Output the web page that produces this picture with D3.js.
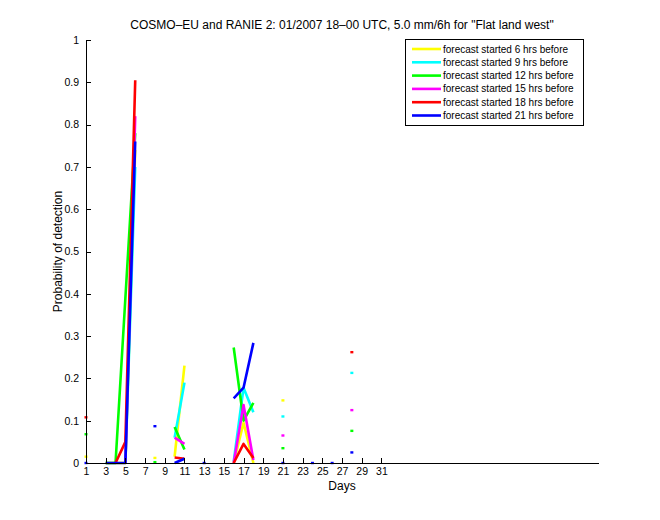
<!DOCTYPE html>
<html><head><meta charset="utf-8">
<script src="https://cdn.jsdelivr.net/npm/d3@7"></script>
<style>body{margin:0;background:#fff}svg{display:block}text{font-family:"Liberation Sans",Arial,sans-serif}</style>
</head><body><svg id="c" width="660" height="520"></svg>
<script>
const days = d3.range(1, 32);
const xTicks = [1,3,5,7,9,11,13,15,17,19,21,23,25,27,29,31];
const yTicks = [0,0.1,0.2,0.3,0.4,0.5,0.6,0.7,0.8,0.9,1];
const seriesNames = ["forecast started 6 hrs before","forecast started 9 hrs before","forecast started 12 hrs before","forecast started 15 hrs before","forecast started 18 hrs before","forecast started 21 hrs before"];
const seriesColors = ["#ffff00","#00ffff","#00ff00","#ff00ff","#ff0000","#0000ff"];
const N = null;
// values for days 1..31
const s6h  = [0.015,N,0,0,0,0.74,N,0.012,N,0.015,0.23,N,N,N,N,0,0.095,0,N,N,0.148,N,N,N,N,N,N,N,N,N,N];
const s9h  = [N,N,N,N,0,0.70,N,N,N,0.06,0.19,N,N,N,N,0.003,0.178,0.12,N,N,0.11,N,N,N,N,N,N,0.213,N,N,N];
const s12h = [0.068,N,0,0,0.39,0.78,N,0.002,N,0.085,0.032,N,N,N,N,0.273,0.10,0.142,N,N,0.035,N,N,N,N,N,N,0.076,N,N,N];
const s15h = [N,N,N,N,0,0.82,N,N,N,0.06,0.045,N,N,N,N,0,0.137,0.007,N,N,0.065,N,N,N,N,N,N,0.125,N,N,N];
const s18h = [0.108,N,N,0,0.05,0.905,N,N,N,0.013,0.01,N,N,N,N,0,0.045,0.012,N,N,N,N,N,N,N,N,N,0.262,N,N,N];
const s21h = [0,N,0,0,0,0.76,N,0.087,N,0,0.01,N,0,N,N,0.153,0.178,0.284,N,N,0,N,N,0,N,0,N,0.025,N,N,N];
const allSeries = [s6h,s9h,s12h,s15h,s18h,s21h];

const svg = d3.select("#c");
const L = 86, R = 598, T = 40, B = 463;
const x = d3.scaleLinear().domain([1, 53]).range([L, R]);
const y = d3.scaleLinear().domain([0, 1]).range([B, T]);

svg.append("rect").attr("width",660).attr("height",520).attr("fill","#fff");

const line = d3.line().defined(d => d[1] !== null).x(d => x(d[0])).y(d => y(d[1]));
allSeries.forEach((vals, i) => {
  const pts = days.map((d, k) => [d, vals[k]]);
  svg.append("path").datum(pts).attr("d", line).attr("fill","none")
    .attr("stroke", seriesColors[i]).attr("stroke-width", 2.6).attr("stroke-linejoin","round");
  // isolated points
  const iso = pts.filter((p, k) => p[1] !== null && (k === 0 || vals[k-1] === null) && (k === vals.length-1 || vals[k+1] === null));
  svg.selectAll(null).data(iso).enter().append("rect")
    .attr("x", p => x(p[0]) - 1.5).attr("y", p => y(p[1]) - 1.2)
    .attr("width", 3).attr("height", 2.4).attr("fill", seriesColors[i]);
});

const fmt = d => d === 0 ? "0" : d === 1 ? "1" : d3.format(".1f")(d);
const yAxis = svg.append("g").attr("transform", `translate(${L},0)`)
  .call(d3.axisLeft(y).tickValues(yTicks).tickFormat(fmt).tickSize(-5).tickSizeOuter(0).tickPadding(7));
const xAxis = svg.append("g").attr("transform", `translate(0,${B})`)
  .call(d3.axisBottom(x).tickValues(xTicks).tickFormat(d3.format("d")).tickSize(-5).tickSizeOuter(0).tickPadding(5));
[yAxis, xAxis].forEach(g => {
  g.selectAll("path,line").attr("stroke","#000").attr("stroke-width",1).attr("shape-rendering","crispEdges");
  g.selectAll("text").attr("font-size", 10.5).attr("fill","#000").attr("font-family","Liberation Sans, Arial, sans-serif");
});

svg.append("text").attr("x", (L+R)/2).attr("y", 29).attr("text-anchor","middle")
  .attr("font-size", 12).text('COSMO\u2013EU and RANIE 2: 01/2007 18\u201300 UTC, 5.0 mm/6h for "Flat land west"');
svg.append("text").attr("x", (L+R)/2).attr("y", 490).attr("text-anchor","middle")
  .attr("font-size", 12).text("Days");
svg.append("text").attr("transform", `translate(62,${(T+B)/2}) rotate(-90)`).attr("text-anchor","middle")
  .attr("font-size", 12).text("Probability of detection");

// legend
const lg = svg.append("g");
lg.append("rect").attr("x",405.5).attr("y",39.5).attr("width",178).attr("height",86)
  .attr("fill","#fff").attr("stroke","#000").attr("stroke-width",1);
seriesNames.forEach((n, i) => {
  const yy = 49 + i*13.3;
  lg.append("line").attr("x1",412).attr("x2",441).attr("y1",yy).attr("y2",yy)
    .attr("stroke",seriesColors[i]).attr("stroke-width",2.6);
  lg.append("text").attr("x",443).attr("y",yy+3.5).attr("font-size",10).text(n);
});
</script></body></html>
